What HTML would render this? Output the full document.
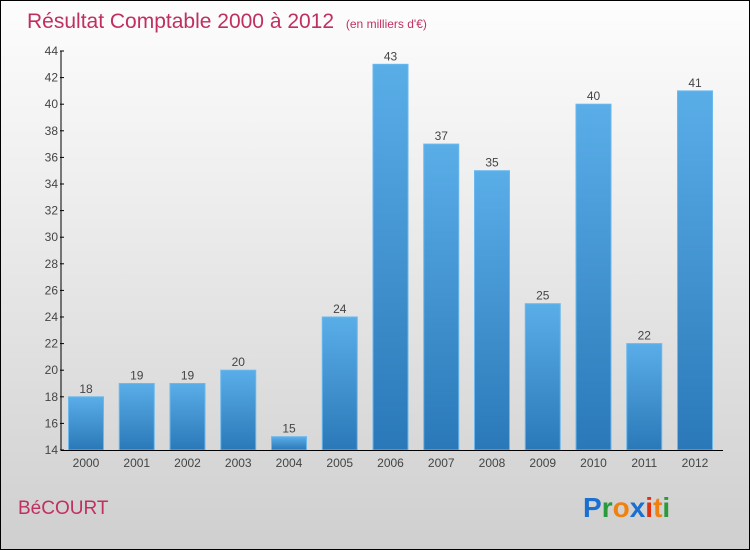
<!DOCTYPE html>
<html><head><meta charset="utf-8"><style>
body{margin:0}
#c{width:748px;height:548px;border:1px solid #000;background:linear-gradient(#fdfdfd,#f0f0f0 30%,#cfcfcf);position:relative;font-family:"Liberation Sans",sans-serif;overflow:hidden}
</style></head><body>
<div id="c">
<svg id="s" width="748" height="548" xmlns="http://www.w3.org/2000/svg">
<defs><linearGradient id="g" x1="0" y1="0" x2="0" y2="1"><stop offset="0" stop-color="#5aaee8"/><stop offset="1" stop-color="#2a78b8"/></linearGradient></defs>
<text x="26" y="27" font-size="21" fill="#c0305f">Résultat Comptable 2000 à 2012 <tspan font-size="12" dx="6">(en milliers d'€)</tspan></text>
<text x="17" y="513" font-size="19" fill="#c0305f">BéCOURT</text>
<g font-size="28" font-weight="bold" font-family="Liberation Sans,sans-serif"><text x="582" y="516"><tspan fill="#1a6fd0">P</tspan><tspan fill="#2a9a3a">r</tspan><tspan fill="#f08010">o</tspan><tspan fill="#1a6fd0">x</tspan><tspan fill="#e03010">i</tspan><tspan fill="#f08010">t</tspan><tspan fill="#2a9a3a">i</tspan></text></g>
<g id="plot"></g>
</svg></div>
<script>
const years=["2000","2001","2002","2003","2004","2005","2006","2007","2008","2009","2010","2011","2012"];
const values=[18,19,19,20,15,24,43,37,35,25,40,22,41];
const yTicks=[14,16,18,20,22,24,26,28,30,32,34,36,38,40,42,44];
const ns="http://www.w3.org/2000/svg",p=document.getElementById('plot');
const y=v=>449-(v-14)*(449-50)/30, x=i=>85+i*50.75;
function mk(t,a,txt){const e=document.createElementNS(ns,t);for(const k in a)e.setAttribute(k,a[k]);if(txt!==undefined)e.textContent=txt;p.appendChild(e);return e;}
values.forEach((v,i)=>{
const r=mk('rect',{x:x(i)-17.5,y:y(v),width:35,height:449-y(v),fill:'url(#g)',stroke:'#6ab8ee','stroke-width':1});


const t=mk('text',{x:x(i),y:y(v)-4,'text-anchor':'middle','font-size':12,fill:'#444'},String(v));


const xl=mk('text',{x:x(i),y:466,'text-anchor':'middle','font-size':12,fill:'#444'},years[i]);


});
yTicks.forEach(v=>{
const l=mk('line',{x1:59,x2:63,y1:y(v),y2:y(v),stroke:'#000'});


const t=mk('text',{x:57,y:y(v)+4,'text-anchor':'end','font-size':12,fill:'#444'},String(v));


});
const ya=mk('line',{x1:60,x2:60,y1:50,y2:449,stroke:'#000'});


const xa=mk('line',{x1:60,x2:722,y1:449.5,y2:449.5,stroke:'#000'});


</script>
</body></html>
